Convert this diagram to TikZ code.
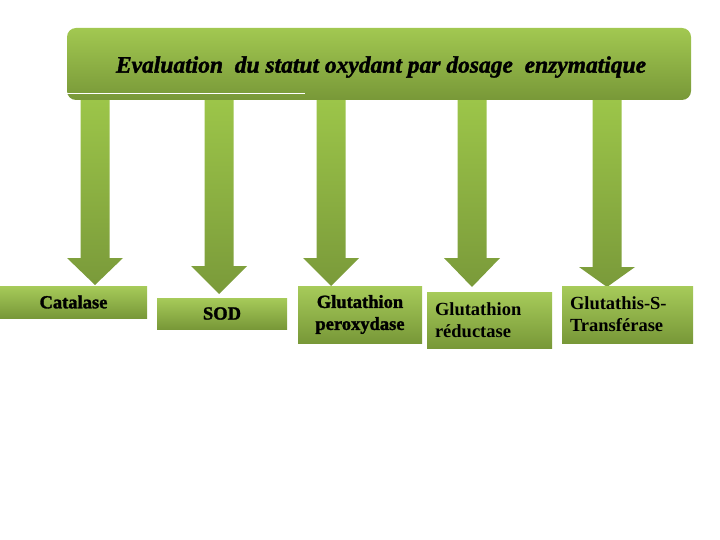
\documentclass[tikz,border=0pt]{standalone}
\usepackage{fontspec}
\setmainfont{Liberation Serif}
\newfontfamily\lourd{Liberation Serif}[UprightFont=* Bold,ItalicFont=* Bold Italic,FakeBold=1.6]
\usepackage{tikz}
\usetikzlibrary{calc}
\definecolor{vertClair}{HTML}{A2C851}
\definecolor{vertFonce}{HTML}{789838}
\definecolor{vertTige}{HTML}{9CC549}
\definecolor{vertPointe}{HTML}{7A9A3A}

\begin{document}
\begin{tikzpicture}[x=1pt,y=-1pt]
  \tikzset{
    titre/.style={rounded corners=9pt,minimum width=624pt,minimum height=72pt,inner sep=0pt,
      top color=vertClair,bottom color=vertFonce},
    enzyme/.style={minimum height=32pt,inner sep=0pt,top color=vertClair!95!white,bottom color=vertFonce,
      font=\fontsize{18.5}{22}\selectfont\bfseries},
    epais/.style={font=\fontsize{18.5}{22}\selectfont\lourd},
    fleche/.style={top color=vertTige,bottom color=vertPointe}
  }
  \useasboundingbox (0,0) rectangle (720,540);
  \node[titre] (eval) at (379,64) {};
  \node[font=\fontsize{23.5}{26}\selectfont\lourd\itshape] (evaltxt) at (381,67) {Evaluation\ \ du statut oxydant par dosage\ \ enzymatique};
  \draw[white,line width=1pt] ([yshift=7pt]eval.south west) -- ++(238pt,0);
  % arrows, drawn under the boxes
  \foreach \nom/\xt/\yt/\hd in {cat/95/285/27,sod/219/294/28,gpx/331/286/28,gr/472/287/29,gst/607/287/20}{
    \coordinate (tip\nom) at (\xt,\yt);
    \shade[fleche] let \p1=(tip\nom), \p2=(eval.south) in
      (\x1-14.5,\y2) -- (\x1+14.5,\y2) -- (\x1+14.5,\y1+\hd) -- (\x1+28,\y1+\hd) -- (\x1,\y1)
      -- (\x1-28,\y1+\hd) -- (\x1-14.5,\y1+\hd) -- cycle;
  }
  \node[enzyme,epais,minimum width=147pt] (cat) at (73.5,302) {Catalase};
  \node[enzyme,epais,minimum width=130pt,minimum height=31pt] (sod) at (222,313.5) {SOD};
  \node[enzyme,epais,minimum width=124pt,minimum height=57pt,align=center] (gpx) at (360,314.5) {Glutathion\\peroxydase};
  \node[enzyme,minimum width=125pt,minimum height=56pt,align=left,text width=109pt] (gr) at (489.5,320) {Glutathion\\réductase};
  \node[enzyme,minimum width=131pt,minimum height=57pt,align=left,text width=115pt] (gst) at (627.5,314.5) {Glutathis-S-\\Transférase};
\end{tikzpicture}
\end{document}
